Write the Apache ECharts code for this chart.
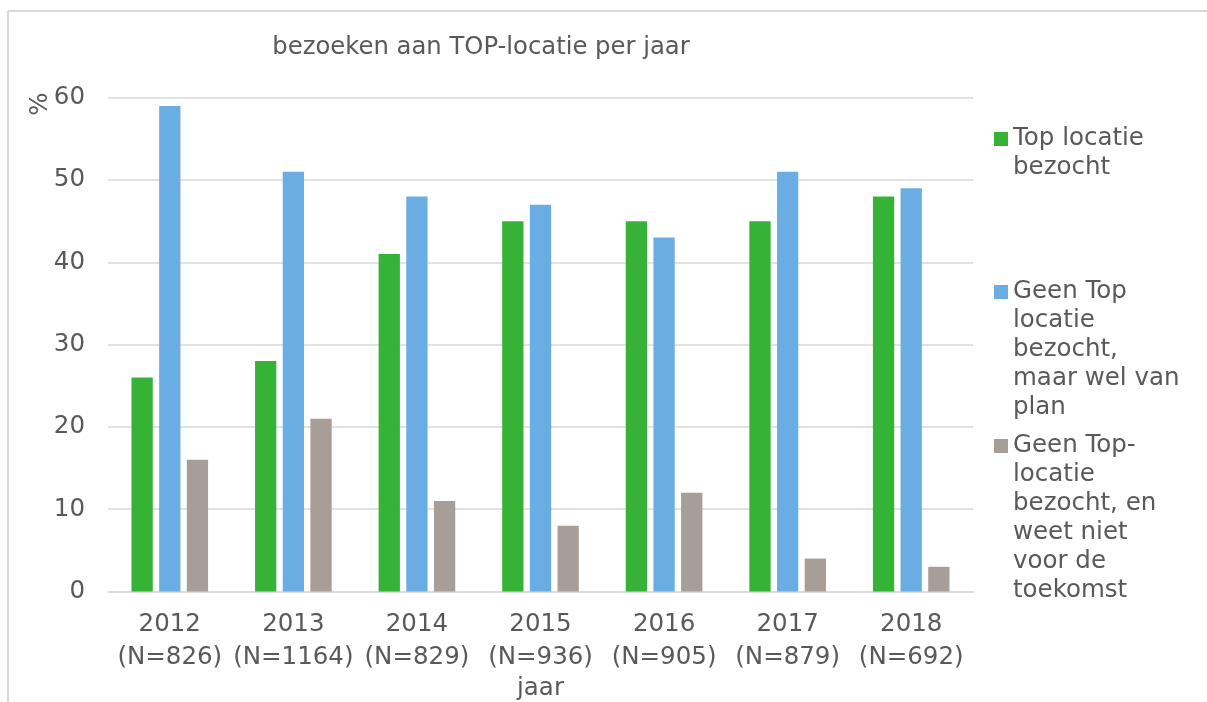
<!DOCTYPE html>
<html>
<head>
<meta charset="utf-8">
<script src="https://cdn.jsdelivr.net/npm/echarts@6/dist/echarts.min.js"></script>
<style>
html,body{margin:0;padding:0;background:#fff;}
#chart{width:1207px;height:702px;}
</style>
</head>
<body>
<div id="chart"></div>
<script>
// ---- data ----
const titleText = 'bezoeken aan TOP-locatie per jaar';
const years = ['2012', '2013', '2014', '2015', '2016', '2017', '2018'];
const sampleSizes = [826, 1164, 829, 936, 905, 879, 692];
const seriesNames = [
  'Top locatie bezocht',
  'Geen Top locatie bezocht, maar wel van plan',
  'Geen Top-locatie bezocht, en weet niet voor de toekomst'
];
const legendLines = [
  ['Top locatie', 'bezocht'],
  ['Geen Top', 'locatie', 'bezocht,', 'maar wel van', 'plan'],
  ['Geen Top-', 'locatie', 'bezocht, en', 'weet niet', 'voor de', 'toekomst']
];
const topLocatieBezocht = [26, 28, 41, 45, 45, 45, 48];
const geenTopWelPlan = [59, 51, 48, 47, 43, 51, 49];
const geenTopWeetNiet = [16, 21, 11, 8, 12, 4, 3];
const yMin = 0, yMax = 60, yInterval = 10;
const xAxisName = 'jaar';
const yAxisName = '%';

// ---- style ----
const colors = ['#36b336', '#6aade3', '#a79e97'];
const textColor = '#595959';
const gridColor = '#d9d9d9';
const font = 'DejaVu Sans';
const fs = 24.5;
const lineH = 29;
const legendIconTops = [132, 285, 439];

const seriesValues = [topLocatieBezocht, geenTopWelPlan, geenTopWeetNiet];

// Legend text is middle-aligned on the icon by ECharts; leading blank lines
// put the first real line level with the icon (as in the reference).
const legends = seriesNames.map((name, i) => {
  const n = legendLines[i].length;
  const text = new Array(n - 1).fill('').concat(legendLines[i]).join('\n');
  return {
    show: true,
    left: 994,
    top: legendIconTops[i] + 7 - (2 * n - 1) * lineH / 2,
    padding: 0,
    orient: 'vertical',
    icon: 'rect',
    itemWidth: 14,
    itemHeight: 14,
    selectedMode: false,
    data: [name],
    formatter: () => text,
    textStyle: {
      color: textColor,
      fontFamily: font,
      fontSize: fs,
      lineHeight: lineH
    }
  };
});

const chart = echarts.init(document.getElementById('chart'), null, {renderer: 'canvas'});
chart.setOption({
  animation: false,
  backgroundColor: '#ffffff',
  color: colors,
  title: {
    text: titleText,
    left: 481,
    top: 48,
    padding: 0,
    textAlign: 'center',
    textVerticalAlign: 'middle',
    textStyle: {color: textColor, fontFamily: font, fontSize: 24.3, fontWeight: 'normal'}
  },
  legend: legends,
  grid: {left: 108, right: 234, top: 97.7, bottom: 110.5, containLabel: false, outerBoundsMode: 'none'},
  xAxis: {
    type: 'category',
    data: years,
    name: xAxisName,
    nameLocation: 'middle',
    nameGap: 97,
    nameMoveOverlap: false,
    nameTextStyle: {color: textColor, fontFamily: font, fontSize: fs, verticalAlign: 'middle'},
    axisTick: {show: false},
    axisLine: {show: true, lineStyle: {color: gridColor, width: 1.5}},
    axisLabel: {
      color: textColor,
      fontFamily: font,
      fontSize: fs,
      lineHeight: 33,
      margin: 17,
      interval: 0,
      formatter: (v, idx) => v + '\n(N=' + sampleSizes[idx] + ')'
    }
  },
  yAxis: {
    type: 'value',
    min: yMin,
    max: yMax,
    interval: yInterval,
    name: yAxisName,
    nameLocation: 'end',
    nameRotate: 90,
    nameGap: -6.5,
    nameMoveOverlap: false,
    nameTextStyle: {
      color: textColor, fontFamily: font, fontSize: fs, lineHeight: 24,
      align: 'center', verticalAlign: 'bottom',
      padding: [0, 0, 55, 0]
    },
    axisLine: {show: false},
    axisTick: {show: false},
    axisLabel: {color: textColor, fontFamily: font, fontSize: fs, margin: 23},
    splitLine: {show: true, lineStyle: {color: gridColor, width: 1.5}}
  },
  series: seriesNames.map((name, i) => ({
    name: name,
    type: 'bar',
    data: seriesValues[i],
    barGap: '30%',
    barCategoryGap: '38%',
    itemStyle: {color: colors[i]}
  })),
  graphic: [
    {type: 'line', shape: {x1: 8, y1: 11, x2: 1207, y2: 11}, style: {stroke: gridColor, lineWidth: 2}, silent: true},
    {type: 'line', shape: {x1: 8, y1: 11, x2: 8, y2: 702}, style: {stroke: gridColor, lineWidth: 2}, silent: true}
  ]
});
</script>
</body>
</html>
